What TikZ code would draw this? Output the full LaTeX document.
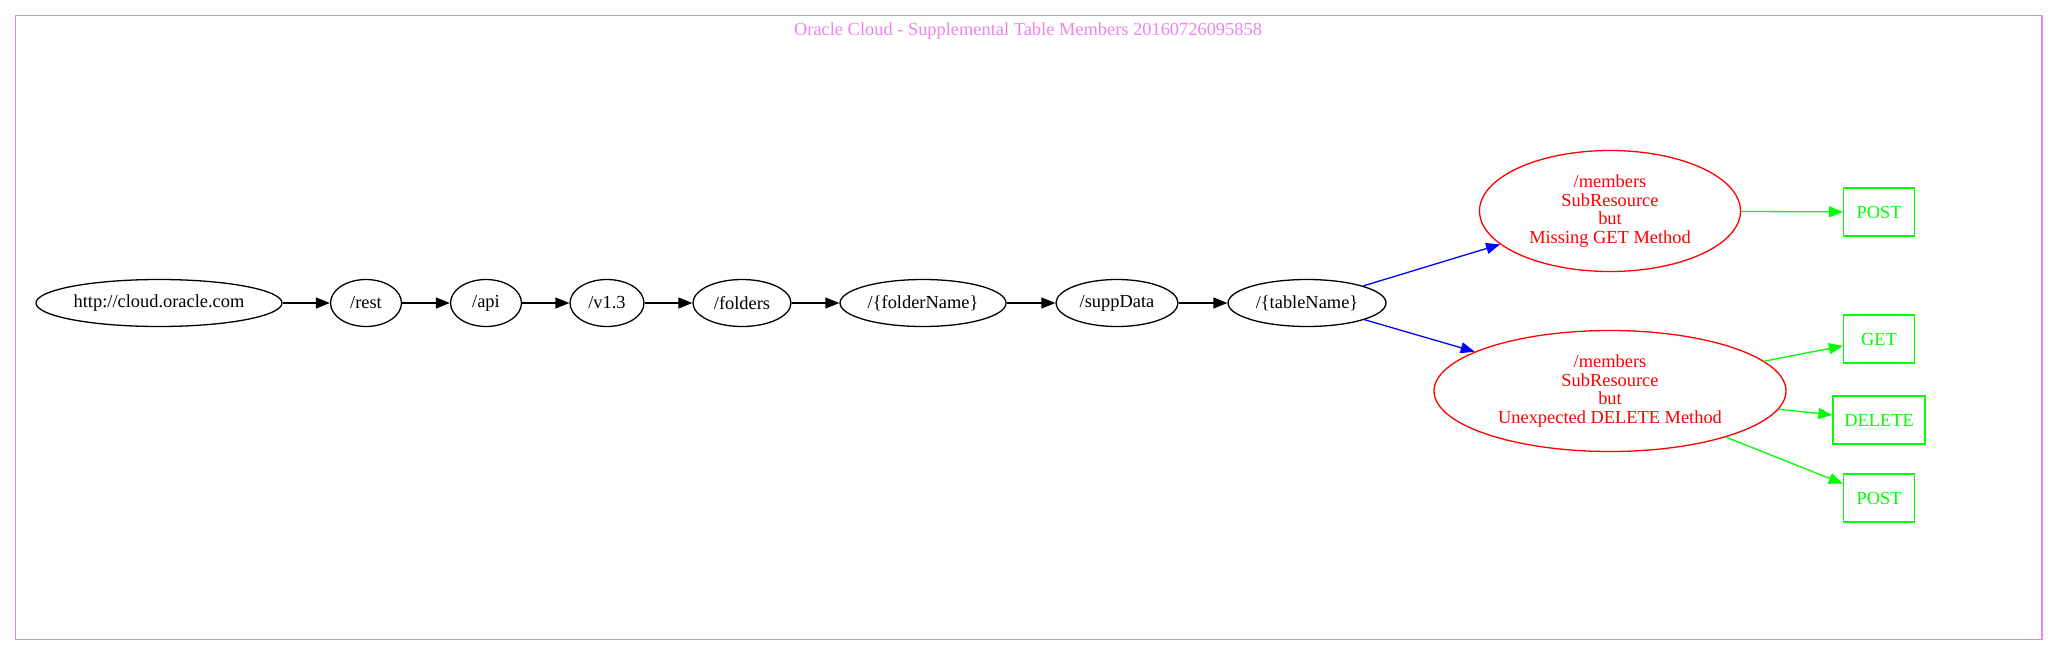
\documentclass[tikz,border=0pt]{standalone}
\usepackage{fontspec}
\setmainfont{Liberation Serif}
\usetikzlibrary{shapes.geometric,arrows.meta}
\definecolor{vio}{HTML}{EE82EE}
\definecolor{grn}{HTML}{00FF00}
\tikzset{
  x=1pt,y=1pt,
  every node/.style={font=\fontsize{18.4}{18.6}\selectfont},
  ell/.style={draw=black,ellipse,inner sep=0pt,minimum height=47pt,line width=1.3pt,align=center},
  redell/.style={draw=red,text=red,ellipse,inner sep=0pt,minimum height=121pt,line width=1.3pt,align=center},
  meth/.style={draw=grn,text=grn,rectangle,inner sep=0pt,minimum height=48pt,minimum width=71pt,line width=1.3pt},
  arr/.style={-{Triangle[length=14pt,width=11pt]},line width=1.3pt},
}
\begin{document}
\begin{tikzpicture}
\useasboundingbox (0,0) rectangle (2059,-656);
\draw[vio,line width=1.3pt] (15.8,-15.8) rectangle (2042,-639.5);
\node[text=vio] (title) at (1028,-31) {Oracle Cloud - Supplemental Table Members 20160726095858};
\node[ell,minimum width=246pt] (n0) at (159,-303) {http://cloud.oracle.com};
\node[ell,minimum width=71pt] (n1) at (366,-303) {/rest};
\node[ell,minimum width=71pt] (n2) at (486,-303) {/api};
\node[ell,minimum width=74pt] (n3) at (607,-303) {/v1.3};
\node[ell,minimum width=98pt] (n4) at (742,-303) {/folders};
\node[ell,minimum width=166pt] (n5) at (923,-303) {/\{folderName\}};
\node[ell,minimum width=122pt] (n6) at (1117,-303) {/suppData};
\node[ell,minimum width=158pt] (n7) at (1307,-303) {/\{tableName\}};
\node[redell,minimum width=261pt] (m1) at (1610,-211) {/members\\SubResource\\but\\Missing GET Method};
\node[redell,minimum width=352pt] (m2) at (1610,-391) {/members\\SubResource\\but\\Unexpected DELETE Method};
\node[meth] (p1) at (1879,-212) {POST};
\node[meth] (g) at (1879,-339) {GET};
\node[meth,minimum width=92pt] (d) at (1879,-420) {DELETE};
\node[meth] (p2) at (1879,-498) {POST};
\draw[arr] (n0) -- (n1);
\draw[arr] (n1) -- (n2);
\draw[arr] (n2) -- (n3);
\draw[arr] (n3) -- (n4);
\draw[arr] (n4) -- (n5);
\draw[arr] (n5) -- (n6);
\draw[arr] (n6) -- (n7);
\draw[arr,blue] (n7) -- (m1);
\draw[arr,blue] (n7) -- (m2);
\draw[arr,grn] (m1) -- (p1);
\draw[arr,grn] (m2) -- (g);
\draw[arr,grn] (m2) -- (d);
\draw[arr,grn] (m2) -- (p2);
\end{tikzpicture}
\end{document}
